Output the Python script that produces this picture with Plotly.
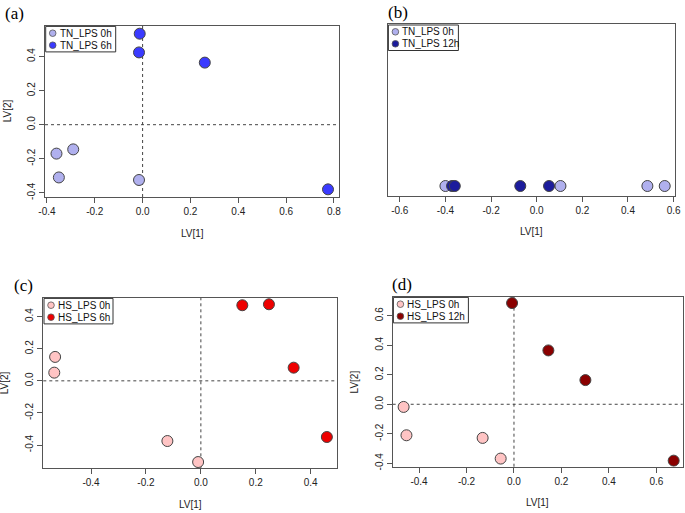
import plotly.graph_objects as go

# panel (a): TN_LPS 0h vs 6h
a_0h_x = [-0.36, -0.35, -0.29, -0.015]
a_0h_y = [-0.17, -0.31, -0.145, -0.325]
a_6h_x = [-0.012, -0.015, 0.26, 0.775]
a_6h_y = [0.535, 0.425, 0.365, -0.38]

# panel (b): TN_LPS 0h vs 12h (single latent variable)
b_0h_x = [-0.40, 0.104, 0.485, 0.561]
b_0h_y = [0, 0, 0, 0]
b_12h_x = [-0.371, -0.359, -0.072, 0.054]
b_12h_y = [0, 0, 0, 0]

# panel (c): HS_LPS 0h vs 6h
c_0h_x = [-0.531, -0.534, -0.122, -0.01]
c_0h_y = [0.149, 0.051, -0.375, -0.506]
c_6h_x = [0.151, 0.248, 0.338, 0.459]
c_6h_y = [0.471, 0.477, 0.082, -0.35]

# panel (d): HS_LPS 0h vs 12h
d_0h_x = [-0.465, -0.453, -0.132, -0.056]
d_0h_y = [-0.018, -0.21, -0.228, -0.368]
d_12h_x = [-0.008, 0.145, 0.301, 0.673]
d_12h_y = [0.686, 0.365, 0.164, -0.382]

FONT = "Liberation Sans"
W, H = 685, 513

panels = [
    dict(s="", tag="(a)", tagpos=(3, 13), legw=70,
         series=[("TN_LPS 0h", a_0h_x, a_0h_y, "#b0b0ee"), ("TN_LPS 6h", a_6h_x, a_6h_y, "#3a3aff")],
         xd=(45, 339), yd=(25.7, 197), xr=(-0.408, 0.821), yr=(-0.425, 0.582),
         xt=[-0.4, -0.2, 0.0, 0.2, 0.4, 0.6, 0.8], yt=[-0.4, -0.2, 0.0, 0.2, 0.4], cross=True),
    dict(s="2", tag="(b)", tagpos=(386, 12), legw=70,
         series=[("TN_LPS 0h", b_0h_x, b_0h_y, "#b0b0ee"), ("TN_LPS 12h", b_12h_x, b_12h_y, "#1c1c9c")],
         xd=(387.7, 675), yd=(24.3, 195.7), xr=(-0.653, 0.606), yr=(-0.06, 1.0),
         xt=[-0.6, -0.4, -0.2, 0.0, 0.2, 0.4, 0.6], yt=[], cross=False),
    dict(s="3", tag="(c)", tagpos=(12, 285), legw=69,
         series=[("HS_LPS 0h", c_0h_x, c_0h_y, "#ffc4c4"), ("HS_LPS 6h", c_6h_x, c_6h_y, "#ee0000")],
         xd=(43.3, 337.3), yd=(297.7, 468.3), xr=(-0.574, 0.497), yr=(-0.545, 0.518),
         xt=[-0.4, -0.2, 0.0, 0.2, 0.4], yt=[-0.4, -0.2, 0.0, 0.2, 0.4], cross=True),
    dict(s="4", tag="(d)", tagpos=(390, 284), legw=75,
         series=[("HS_LPS 0h", d_0h_x, d_0h_y, "#ffc4c4"), ("HS_LPS 12h", d_12h_x, d_12h_y, "#8a0000")],
         xd=(392.7, 682.7), yd=(296.7, 466.7), xr=(-0.511, 0.711), yr=(-0.423, 0.729),
         xt=[-0.4, -0.2, 0.0, 0.2, 0.4, 0.6], yt=[-0.4, -0.2, 0.0, 0.2, 0.4, 0.6], cross=True),
]


def px(x):
    return x / W


def py(y):
    return 1 - y / H


fig = go.Figure()
layout = dict(width=W, height=H, margin=dict(l=0, r=0, t=0, b=0, autoexpand=False),
              paper_bgcolor="white", plot_bgcolor="white", showlegend=False,
              font=dict(family=FONT, size=10, color="#222"))
annotations = []
shapes = []

for p in panels:
    s = p["s"]
    for name, xs, ys, col in p["series"]:
        fig.add_trace(go.Scatter(
            x=xs, y=ys, mode="markers", name=name,
            xaxis="x" + s, yaxis="y" + s,
            marker=dict(size=11, color=col, line=dict(color="#444", width=1))))

    x0, x1 = px(p["xd"][0]), px(p["xd"][1])
    y0, y1 = py(p["yd"][1]), py(p["yd"][0])
    axstyle = dict(showgrid=False, zeroline=False, showline=True, mirror=True,
                   linecolor="#555", linewidth=1, ticks="outside", ticklen=5,
                   tickcolor="#555", tickfont=dict(size=10, color="#222"),
                   automargin=False)
    layout["xaxis" + s] = dict(axstyle, domain=[x0, x1], range=list(p["xr"]),
                               anchor="y" + s, tickvals=p["xt"],
                               ticktext=[f"{v:.1f}" for v in p["xt"]])
    yax = dict(axstyle, domain=[y0, y1], range=list(p["yr"]), anchor="x" + s,
               tickvals=p["yt"], ticktext=[f"{v:.1f}" for v in p["yt"]], tickangle=-90)
    if not p["yt"]:
        yax.update(ticks="", showticklabels=False)
    layout["yaxis" + s] = yax

    # legend box drawn in the R style: small circles and text inside a frame
    lx, ly = p["xd"][0] + 0.7, p["yd"][0] + 0.7
    shapes.append(dict(type="rect", xref="paper", yref="paper",
                       x0=px(lx), x1=px(lx + p["legw"]), y0=py(ly + 25.5), y1=py(ly),
                       line=dict(color="#333", width=1), fillcolor="white", layer="above"))
    for k, (name, xs, ys, col) in enumerate(p["series"]):
        cy = ly + 6.8 + k * 12
        cx = lx + 7
        shapes.append(dict(type="circle", xref="paper", yref="paper",
                           x0=px(cx - 3.3), x1=px(cx + 3.3), y0=py(cy + 3.3), y1=py(cy - 3.3),
                           fillcolor=col, line=dict(color="#555", width=0.8), layer="above"))
        annotations.append(dict(text=name, xref="paper", yref="paper",
                                x=px(lx + 12), y=py(cy), xanchor="left", yanchor="middle",
                                showarrow=False,
                                font=dict(family=FONT, size=10, color="#111")))

    # panel tag
    annotations.append(dict(text=p["tag"], xref="paper", yref="paper",
                            x=px(p["tagpos"][0]), y=py(p["tagpos"][1]),
                            xanchor="left", yanchor="middle", showarrow=False,
                            font=dict(family="Liberation Serif", size=17, color="black")))
    # axis titles
    annotations.append(dict(text="LV[1]", xref="paper", yref="paper",
                            x=(x0 + x1) / 2, y=y0 - 36 / H, xanchor="center",
                            yanchor="middle", showarrow=False, font=dict(size=10)))
    if p["cross"]:
        annotations.append(dict(text="LV[2]", xref="paper", yref="paper",
                                x=px(p["xd"][0] - 38), y=(y0 + y1) / 2, textangle=-90,
                                xanchor="center", yanchor="middle", showarrow=False,
                                font=dict(size=10)))
        shapes.append(dict(type="line", xref="x" + s, yref="y" + s + " domain",
                           x0=0, x1=0, y0=0, y1=1, layer="below",
                           line=dict(color="#444", width=1, dash="3px,3px")))
        shapes.append(dict(type="line", xref="x" + s + " domain", yref="y" + s,
                           x0=0, x1=1, y0=0, y1=0, layer="below",
                           line=dict(color="#444", width=1, dash="3px,3px")))

layout["annotations"] = annotations
layout["shapes"] = shapes
fig.update_layout(**layout)
# drop the default 8px page margin so the figure fills the window exactly
fig.write_html("out.html", config={"displayModeBar": False},
               post_script="document.body.style.margin='0px';")
